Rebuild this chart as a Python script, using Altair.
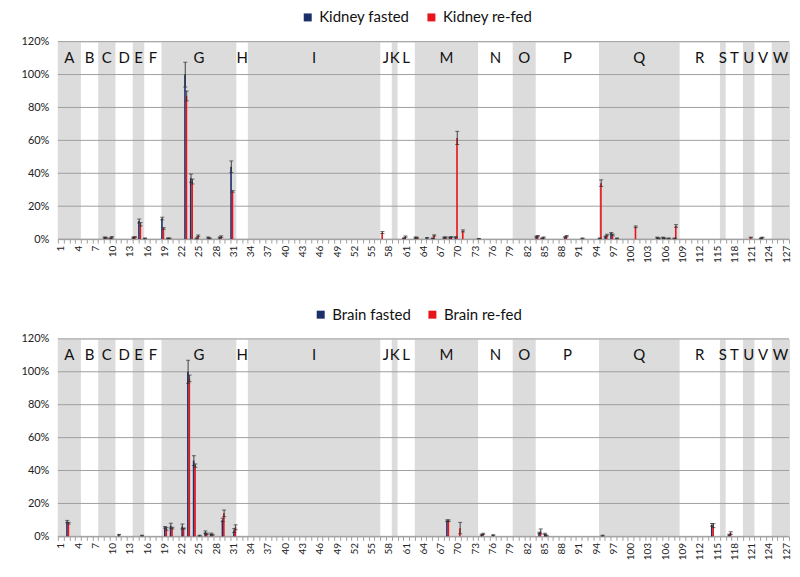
import altair as alt
import pandas as pd

# ---------------- data ----------------
CATS = list(range(1, 128))
Y_TICKS = [0, 20, 40, 60, 80, 100, 120]

REGION_LETTERS = list("ABCDEFGHIJKLMNOPQRSTUVW")
REGION_START = [1, 5, 8, 11, 14, 16, 19, 32, 34, 57, 59, 60, 63, 74, 80, 84, 95, 109, 116, 117, 120, 122, 125]
REGION_END = [4, 7, 10, 13, 15, 18, 31, 33, 56, 58, 59, 62, 73, 79, 83, 94, 108, 115, 116, 119, 121, 124, 127]

KIDNEY_CAT = [9, 10, 14, 15, 16, 19, 20, 23, 24, 25, 27, 29, 31, 57, 61, 63, 65, 66, 68, 69, 70, 71, 74,
              84, 85, 89, 92, 95, 96, 97, 98, 101, 105, 106, 107, 108, 121, 123]
KIDNEY_FASTED = [1.0, 0.5, 1.0, 11.0, 0.5, 12.5, 0.5, 100, 37, 0.5, 1.0, 1.0, 44, 0, 0.5, 1.0, 0.8, 0.5, 1.0, 1.0, 1.2, 0, 0.3,
                 1.5, 0.5, 1.2, 0.5, 0.5, 1.5, 3.5, 0.5, 0, 1.0, 1.0, 0.5, 0.5, 0, 0.5]
KIDNEY_FASTED_ERR = [0.3, 0.2, 0.3, 1.2, 0.2, 0.8, 0.2, 7.5, 2.5, 0.3, 0.3, 0.3, 3.5, 0, 0.2, 0.3, 0.2, 0.2, 0.3, 0.3, 0.3, 0, 0.1,
                     0.3, 0.2, 0.3, 0.2, 0.2, 0.3, 0.5, 0.2, 0, 0.2, 0.2, 0.2, 0.2, 0, 0.2]
KIDNEY_REFED = [0.8, 1.2, 1.2, 9.0, 0, 6.5, 0.5, 87, 35, 2.0, 0.5, 1.5, 29, 4.0, 1.5, 0.8, 0, 2.2, 1.0, 1.2, 61.5, 5.0, 0,
                1.8, 1.0, 1.8, 0, 34, 2.5, 2.5, 0, 7.5, 0.5, 0.5, 0, 8.0, 1.0, 1.0]
KIDNEY_REFED_ERR = [0.3, 0.4, 0.3, 1.0, 0, 0.5, 0.2, 3.0, 1.5, 0.5, 0.2, 0.5, 0.5, 0.6, 0.4, 0.3, 0, 0.4, 0.3, 0.3, 4.0, 0.6, 0,
                    0.4, 0.3, 0.4, 0, 2.0, 0.5, 0.5, 0, 0.5, 0.2, 0.2, 0, 0.8, 0.2, 0.2]

BRAIN_CAT = [2, 11, 15, 19, 20, 22, 23, 24, 25, 26, 27, 29, 31, 68, 70, 74, 76, 84, 85, 95, 114, 117]
BRAIN_FASTED = [9.0, 1.0, 0.5, 5.5, 6.5, 6.0, 100, 46, 0.5, 2.5, 1.5, 10.0, 3.5, 9.5, 0, 1.0, 0.8, 2.0, 1.5, 0.5, 7.0, 1.0]
BRAIN_FASTED_ERR = [0.7, 0.2, 0.2, 0.5, 1.5, 1.5, 7.0, 3.0, 0.2, 0.8, 0.5, 1.0, 1.2, 0.5, 0, 0.3, 0.2, 0.5, 0.4, 0.2, 0.8, 0.3]
BRAIN_REFED = [8.0, 0, 0, 4.5, 5.0, 4.8, 96, 43, 0, 1.5, 1.0, 14.0, 5.5, 9.5, 5.0, 1.5, 0, 3.0, 0.5, 0, 6.5, 2.0]
BRAIN_REFED_ERR = [0.5, 0, 0, 0.8, 0.5, 0.3, 2.0, 1.0, 0, 0.5, 0.3, 2.0, 1.5, 0.5, 3.5, 0.4, 0, 1.5, 0.2, 0, 1.2, 0.8]

# ---------------- style ----------------
NAVY = "#1b2f6b"
RED = "#e8141c"
BAND_GREY = "#dcdcdc"
GRID = "#a0a0a0"
ERR = "#303030"
FONT = "Lato"
W, H = 733, 198

regions = pd.DataFrame({
    "letter": REGION_LETTERS,
    "start": [s - 0.5 for s in REGION_START],
    "end": [e + 0.5 for e in REGION_END],
    "mid": [(s + e) / 2 for s, e in zip(REGION_START, REGION_END)],
    "shaded": [i % 2 == 0 for i in range(len(REGION_LETTERS))],
})
grid_df = pd.DataFrame({"y": Y_TICKS})

yscale = alt.Scale(domain=[0, 120], nice=False)
yaxis = alt.Axis(values=Y_TICKS, labelExpr="datum.value + '%'", grid=False, domain=False,
                 ticks=False, tickSize=0, labelPadding=9, labelFont=FONT, labelFontSize=11,
                 labelColor="#222", title=None, minExtent=49, maxExtent=49)
xq = alt.Scale(domain=[0.5, 127.5], nice=False, zero=False)
xband = alt.Scale(domain=CATS, paddingInner=0, paddingOuter=0)
xaxis = alt.Axis(labelExpr="(datum.value - 1) % 3 == 0 ? '' + datum.value : ''", labelAngle=270,
                 labelFont=FONT, labelFontSize=10, labelColor="#222", labelOverlap=False,
                 tickBand="extent", tickSize=4, tickColor=GRID, domainColor=GRID,
                 labelPadding=2, title=None, grid=False, minExtent=22, maxExtent=22)


def Y(field):
    return alt.Y(field, type="quantitative", scale=yscale, axis=yaxis)


def panel(name, cats, f, fe, r, re, legend_x):
    s_f, s_r = name + " fasted", name + " re-fed"
    rows = []
    for c, v, e in zip(cats, f, fe):
        rows.append({"cat": c, "series": s_f, "value": v, "err": e})
    for c, v, e in zip(cats, r, re):
        rows.append({"cat": c, "series": s_r, "value": v, "err": e})
    df = pd.DataFrame(rows)

    xoff = alt.XOffset("series:N", scale=alt.Scale(domain=[s_f, s_r], paddingInner=0, paddingOuter=0))

    bands = alt.Chart(regions).transform_filter("datum.shaded").transform_calculate(
        y0="0", y1="120").mark_rect(color=BAND_GREY).encode(
        x=alt.X("start:Q", scale=xq, axis=None), x2="end:Q",
        y=Y("y0"), y2="y1:Q")

    gridlines = alt.Chart(grid_df).mark_rule(color=GRID, strokeWidth=1).encode(y=Y("y"))

    letters = alt.Chart(regions).transform_calculate(ly="110").mark_text(
        font=FONT, fontSize=15, color="#111").encode(
        x=alt.X("mid:Q", scale=xq, axis=None), y=Y("ly"), text="letter:N")

    bars = alt.Chart(df).transform_filter("datum.value > 0").mark_bar(
        width=alt.RelativeBandSize(1.12)).encode(
        x=alt.X("cat:O", scale=xband, axis=xaxis),
        xOffset=xoff,
        y=Y("value"),
        color=alt.Color("series:N", scale=alt.Scale(domain=[s_f, s_r], range=[NAVY, RED]),
                        legend=alt.Legend(title=None, orient="none", direction="horizontal",
                                          legendX=legend_x, legendY=-32, symbolType="square",
                                          symbolSize=64, symbolStrokeWidth=0, labelFont=FONT,
                                          labelFontSize=15, labelColor="#111", columnPadding=14,
                                          padding=0)),
    )

    err_base = alt.Chart(df).transform_filter("datum.value > 0 && datum.err > 0").transform_calculate(
        lo="max(datum.value - datum.err, 0)", hi="datum.value + datum.err")

    err_rule = err_base.mark_rule(color=ERR, strokeWidth=0.9).encode(
        x=alt.X("cat:O", scale=xband, axis=None), xOffset=xoff, y=Y("lo"), y2="hi:Q")

    caps = err_base.transform_fold(["lo", "hi"], as_=["which", "capv"]).mark_tick(
        color=ERR, thickness=1, size=4).encode(
        x=alt.X("cat:O", scale=xband, axis=None), xOffset=xoff, y=Y("capv"))

    return alt.layer(bands, gridlines, letters, bars, err_rule, caps).resolve_scale(
        x="independent").properties(width=W, height=H)


top = panel("Kidney", KIDNEY_CAT, KIDNEY_FASTED, KIDNEY_FASTED_ERR, KIDNEY_REFED, KIDNEY_REFED_ERR, 243)
bottom = panel("Brain", BRAIN_CAT, BRAIN_FASTED, BRAIN_FASTED_ERR, BRAIN_REFED, BRAIN_REFED_ERR, 256)

chart = alt.vconcat(top, bottom, spacing=43).resolve_scale(color="independent").resolve_legend(
    color="independent").configure_view(stroke=None).configure(padding=0)

chart.save("out.html", embed_options={"renderer": "svg", "actions": False})
